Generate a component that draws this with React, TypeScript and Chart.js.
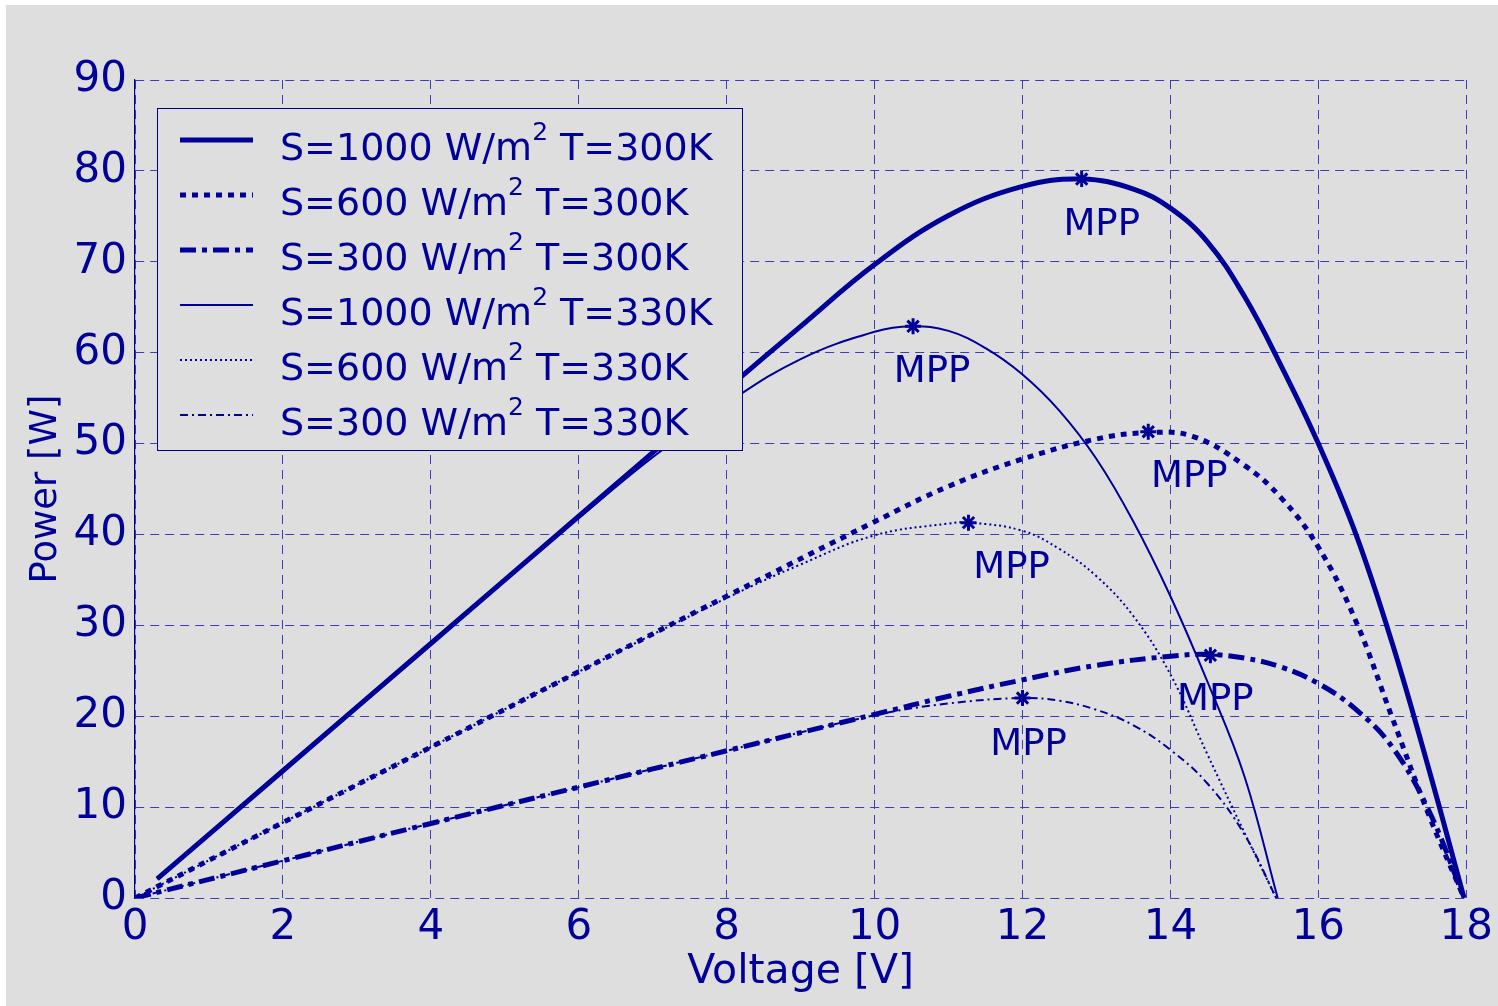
import React, { useEffect, useRef } from "react";
import { Chart, registerables } from "chart.js";

Chart.register(...registerables);

// ---------- data ----------
const xTickValues = [0, 2, 4, 6, 8, 10, 12, 14, 16, 18];
const yTickValues = [0, 10, 20, 30, 40, 50, 60, 70, 80, 90];

const irradiance = [1000, 600, 300, 1000, 600, 300];
const temperature = [300, 300, 300, 330, 330, 330];

const v1000_300 = [0.3, 2, 4, 6, 8, 9, 10, 11, 12, 12.8, 13.5, 14, 14.5, 15, 15.5, 16, 16.5, 17, 17.5, 17.97];
const p1000_300 = [2.1, 14.0, 28.0, 42.0, 56.0, 62.9, 69.7, 75.1, 78.3, 79.1, 78.0, 75.9, 72.2, 66.2, 58.5, 50.0, 40.2, 28.0, 14.0, 0];

const v600_300 = [0, 2, 4, 6, 8, 10, 11, 12, 13, 13.7, 14.3, 15, 15.5, 16, 16.5, 17, 17.5, 17.97];
const p600_300 = [0, 8.3, 16.6, 24.9, 33.2, 41.4, 45.3, 48.3, 50.5, 51.2, 50.8, 47.6, 44.0, 38.6, 30.6, 19.8, 9.0, 0];

const v300_300 = [0, 2, 4, 6, 8, 10, 11, 12, 13, 14, 14.5, 15, 15.5, 16, 16.5, 17, 17.5, 17.97];
const p300_300 = [0, 4.1, 8.2, 12.2, 16.2, 20.2, 22.2, 24.0, 25.6, 26.6, 26.8, 26.4, 25.4, 23.6, 20.8, 16.6, 9.5, 0];

const v1000_330 = [0.3, 2, 4, 6, 7, 8, 9, 10, 10.5, 11, 11.5, 12, 12.5, 13, 13.5, 14, 14.5, 15, 15.45];
const p1000_330 = [2.1, 14.0, 28.0, 41.8, 48.5, 54.4, 59.3, 62.3, 62.9, 62.4, 60.5, 57.6, 53.6, 48.3, 41.4, 33.2, 23.8, 13.4, 0];

const v600_330 = [0, 2, 4, 6, 8, 9, 10, 11, 11.3, 12, 12.5, 13, 13.5, 14, 14.5, 15, 15.43];
const p600_330 = [0, 8.3, 16.6, 24.9, 33.0, 36.7, 39.9, 41.2, 41.3, 40.4, 38.4, 35.4, 31.0, 24.6, 15.8, 7.2, 0];

const v300_330 = [0, 2, 4, 6, 8, 10, 11, 12, 12.5, 13, 13.5, 14, 14.5, 15, 15.43];
const p300_330 = [0, 4.1, 8.2, 12.2, 16.2, 20.1, 21.4, 22.0, 21.7, 20.7, 19.0, 16.3, 12.6, 7.0, 0];

// maximum power points (same order as series)
const mppV = [12.8, 13.7, 14.54, 10.52, 11.27, 12.0];
const mppP = [79.1, 51.3, 26.7, 62.9, 41.3, 22.0];
const mppText = "MPP";

const xTitle = "Voltage [V]";
const yTitle = "Power [W]";

// ---------- styles ----------
const NAVY = "#000099";
const GRID = "#3c3cb6";
const BG = "#dedede";
const FONT = "'DejaVu Sans', sans-serif";

const seriesV = [v1000_300, v600_300, v300_300, v1000_330, v600_330, v300_330];
const seriesP = [p1000_300, p600_300, p300_300, p1000_330, p600_330, p300_330];
const seriesWidth = [5, 5, 5, 2, 2, 2];
const seriesDash: number[][] = [[], [6, 6], [16, 6, 5, 6], [], [2, 3], [8, 4, 2, 4]];
const mppLabelOffset = [[20, 46], [41, 46], [5, 45], [19, 46], [43, 46], [6, 47]];

const overlayPlugin = {
  id: "overlay",
  afterDatasetsDraw(chart: any) {
    const { ctx, chartArea, scales } = chart;
    ctx.save();
    // MPP labels
    ctx.fillStyle = NAVY;
    ctx.font = `37px ${FONT}`;
    ctx.textAlign = "center";
    ctx.textBaseline = "middle";
    for (let i = 0; i < mppV.length; i++) {
      const px = scales.x.getPixelForValue(mppV[i]);
      const py = scales.y.getPixelForValue(mppP[i]);
      ctx.fillText(mppText, px + mppLabelOffset[i][0], py + mppLabelOffset[i][1]);
    }
    // legend box
    const bx = chartArea.left + 22;
    const by = chartArea.top + 28;
    const bw = 585;
    const bh = 342;
    ctx.fillStyle = BG;
    ctx.fillRect(bx, by, bw, bh);
    ctx.strokeStyle = NAVY;
    ctx.lineWidth = 1;
    ctx.setLineDash([]);
    ctx.strokeRect(bx + 0.5, by + 0.5, bw, bh);
    for (let i = 0; i < irradiance.length; i++) {
      const base = by + 52 + i * 55;
      const ly = base - 20;
      ctx.beginPath();
      ctx.lineCap = "butt";
      ctx.setLineDash(seriesDash[i]);
      ctx.lineWidth = seriesWidth[i];
      ctx.strokeStyle = NAVY;
      ctx.moveTo(bx + 23, ly);
      ctx.lineTo(bx + 96, ly);
      ctx.stroke();
      ctx.setLineDash([]);
      ctx.fillStyle = NAVY;
      ctx.textAlign = "left";
      ctx.textBaseline = "alphabetic";
      let tx = bx + 123;
      const part1 = `S=${irradiance[i]} W/m`;
      ctx.font = `38px ${FONT}`;
      ctx.fillText(part1, tx, base);
      tx += ctx.measureText(part1).width;
      ctx.font = `25px ${FONT}`;
      ctx.fillText("2", tx, base - 20);
      tx += ctx.measureText("2").width;
      ctx.font = `38px ${FONT}`;
      ctx.fillText(` T=${temperature[i]}K`, tx, base);
    }
    ctx.restore();
  },
};

export default function App() {
  const ref = useRef<HTMLCanvasElement | null>(null);
  useEffect(() => {
    if (!ref.current) return;
    const datasets: any[] = seriesV.map((vs, i) => ({
      label: `S=${irradiance[i]} T=${temperature[i]}`,
      data: vs.map((v, j) => ({ x: v, y: seriesP[i][j] })),
      borderColor: NAVY,
      backgroundColor: NAVY,
      borderWidth: seriesWidth[i],
      borderDash: seriesDash[i],
      borderCapStyle: "butt",
      borderJoinStyle: "round",
      pointRadius: 0,
      tension: 0.4,
      fill: false,
    }));
    datasets.push({
      type: "scatter",
      label: "MPP",
      data: mppV.map((v, i) => ({ x: v, y: mppP[i] })),
      showLine: false,
      pointStyle: "star",
      pointRadius: 8,
      borderWidth: 3,
      borderColor: NAVY,
      backgroundColor: NAVY,
    });
    const chart = new Chart(ref.current, {
      type: "line",
      data: { datasets },
      options: {
        animation: false,
        responsive: false,
        devicePixelRatio: 1,
        layout: { padding: { left: 9, right: 31, top: 75, bottom: 8 } },
        plugins: { legend: { display: false }, tooltip: { enabled: false } },
        scales: {
          x: {
            type: "linear",
            min: 0,
            max: 18,
            afterFit: (s: any) => { s.height = 100; },
            afterBuildTicks: (s: any) => { s.ticks = xTickValues.map((v) => ({ value: v })); },
            ticks: { color: NAVY, font: { family: FONT, size: 42 }, padding: 5, maxRotation: 0, autoSkip: false },
            grid: { color: GRID, lineWidth: 1, drawTicks: false },
            border: { display: false, dash: [9, 6] },
            title: { display: true, text: xTitle, color: NAVY, font: { family: FONT, size: 41 }, padding: { top: 0, bottom: 1 } },
          },
          y: {
            type: "linear",
            min: 0,
            max: 90,
            afterFit: (s: any) => { s.width = 120; },
            afterBuildTicks: (s: any) => { s.ticks = yTickValues.map((v) => ({ value: v })); },
            ticks: { color: NAVY, font: { family: FONT, size: 42 }, padding: 8 },
            grid: { color: GRID, lineWidth: 1, drawTicks: false },
            border: { display: true, color: NAVY, width: 1.2, dash: [9, 6] },
            title: { display: true, text: yTitle, color: NAVY, font: { family: FONT, size: 37 }, padding: { top: 9, bottom: 0 } },
          },
        },
      } as any,
      plugins: [overlayPlugin],
    });
    return () => chart.destroy();
  }, []);
  return (
    <div style={{ position: "absolute", left: 0, top: 0, width: 1498, height: 1006, background: "#ffffff", overflow: "hidden" }}>
      <canvas
        ref={ref}
        width={1492}
        height={1001}
        style={{ position: "absolute", left: 6, top: 5, width: 1492, height: 1001, background: BG, display: "block" }}
      />
    </div>
  );
}
